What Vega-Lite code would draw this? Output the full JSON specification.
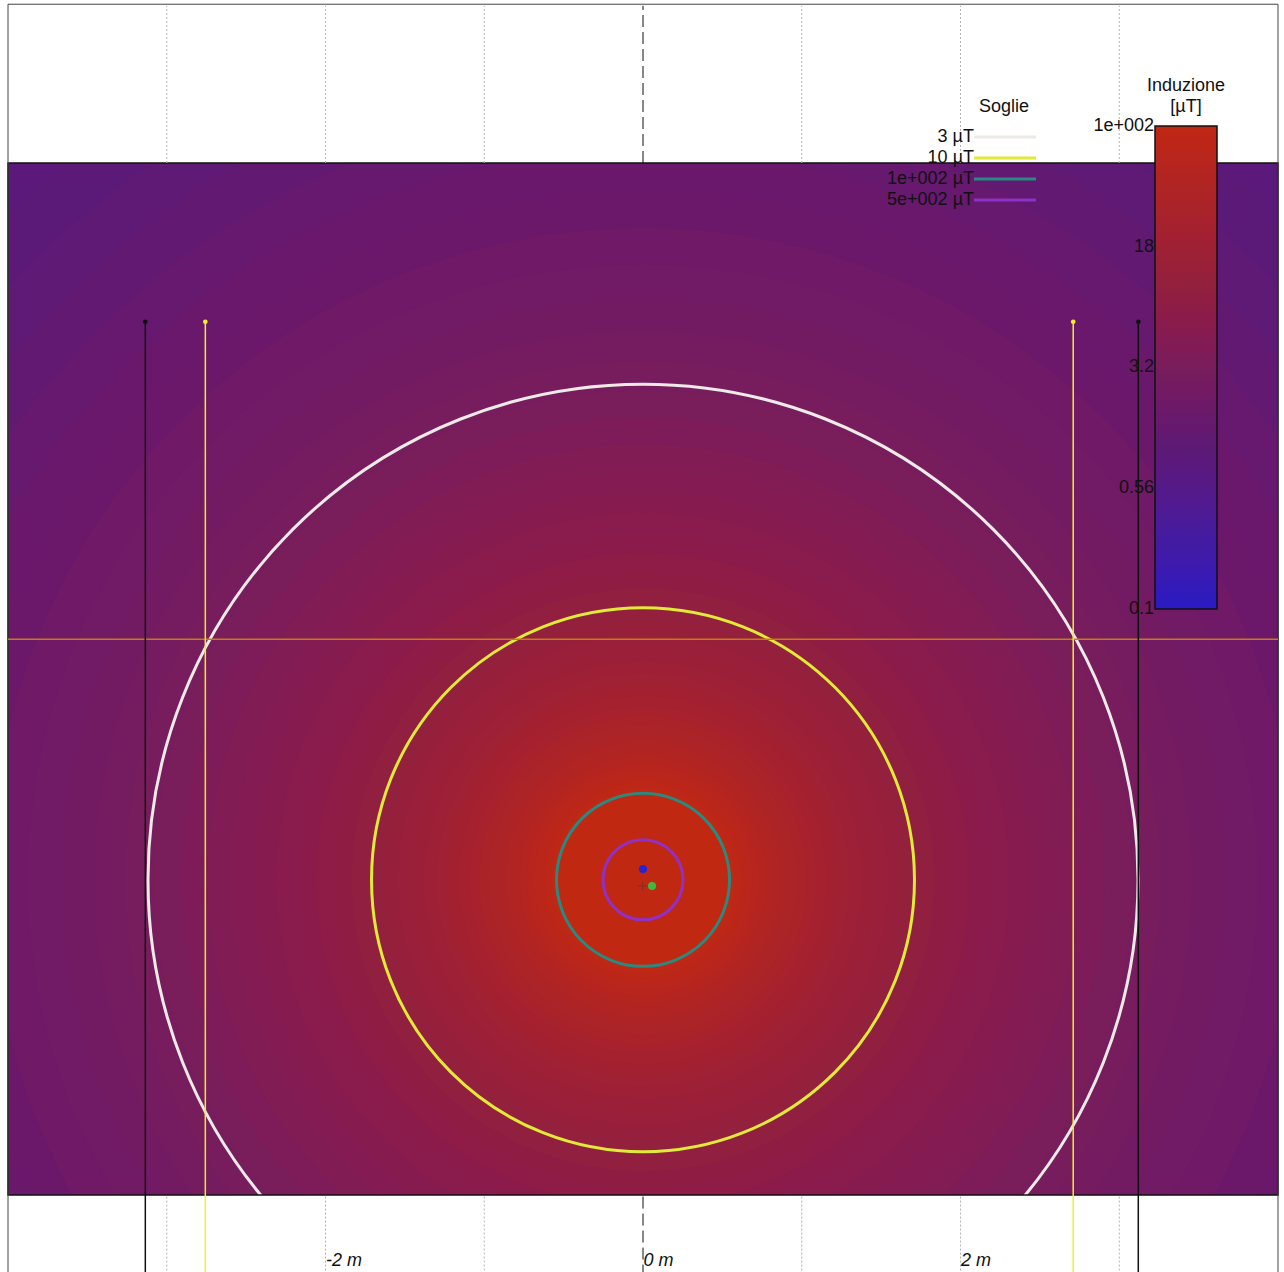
{
  "$schema": "https://vega.github.io/schema/vega-lite/v6.json",
  "autosize": {"type": "none"},
  "width": 1270,
  "height": 1032,
  "padding": {"left": 8, "top": 163, "right": 6, "bottom": 77},
  "background": "white",
  "config": {
    "view": {"stroke": null},
    "font": "Liberation Sans",
    "legend": {"labelFont": "Liberation Sans", "titleFont": "Liberation Sans", "labelFontSize": 18, "titleFontSize": 18, "titleFontWeight": "normal", "labelColor": "#111", "titleColor": "#111"}
  },
  "datasets": {
    "rings": [
      {"r": 6.145, "B": 0.841}, {"r": 5.802, "B": 0.944}, {"r": 5.477, "B": 1.06}, {"r": 5.171, "B": 1.19},
      {"r": 4.881, "B": 1.33}, {"r": 4.608, "B": 1.50}, {"r": 4.351, "B": 1.68}, {"r": 4.107, "B": 1.88},
      {"r": 3.877, "B": 2.11}, {"r": 3.660, "B": 2.37}, {"r": 3.456, "B": 2.66}, {"r": 3.262, "B": 2.99},
      {"r": 3.080, "B": 3.35}, {"r": 2.908, "B": 3.76}, {"r": 2.745, "B": 4.22}, {"r": 2.591, "B": 4.73},
      {"r": 2.446, "B": 5.31}, {"r": 2.310, "B": 5.96}, {"r": 2.180, "B": 6.68}, {"r": 2.059, "B": 7.50},
      {"r": 1.943, "B": 8.41}, {"r": 1.835, "B": 9.44}, {"r": 1.732, "B": 10.6}, {"r": 1.635, "B": 11.9},
      {"r": 1.544, "B": 13.3}, {"r": 1.457, "B": 15.0}, {"r": 1.376, "B": 16.8}, {"r": 1.299, "B": 18.8},
      {"r": 1.226, "B": 21.1}, {"r": 1.158, "B": 23.7}, {"r": 1.093, "B": 26.6}, {"r": 1.032, "B": 29.9},
      {"r": 0.974, "B": 33.5}, {"r": 0.920, "B": 37.6}, {"r": 0.868, "B": 42.2}, {"r": 0.819, "B": 47.3},
      {"r": 0.774, "B": 53.1}, {"r": 0.730, "B": 59.6}, {"r": 0.690, "B": 66.8}, {"r": 0.651, "B": 75.0},
      {"r": 0.615, "B": 84.1}, {"r": 0.580, "B": 94.4}, {"r": 0.548, "B": 105.9}
    ],
    "contours": [
      {"r": 3.118, "soglia": "3 µT"},
      {"r": 1.710, "soglia": "10 µT"},
      {"r": 0.545, "soglia": "1e+002 µT"},
      {"r": 0.252, "soglia": "5e+002 µT"}
    ],
    "grid": [{"x": -3}, {"x": -2}, {"x": -1}, {"x": 1}, {"x": 2}, {"x": 3}],
    "markers": [
      {"x": -3.135, "kind": "black"}, {"x": 3.12, "kind": "black"},
      {"x": -2.757, "kind": "yellow"}, {"x": 2.71, "kind": "yellow"}
    ],
    "conductors": [
      {"x": 0.0, "y": -1.447, "phase": "#2424d4"},
      {"x": 0.057, "y": -1.554, "phase": "#3cbc3c"}
    ],
    "cbarticks": [
      {"v": 100, "label": "1e+002"}, {"v": 17.783, "label": "18"}, {"v": 3.1623, "label": "3.2"},
      {"v": 0.5623, "label": "0.56"}, {"v": 0.1, "label": "0.1"}
    ]
  },
  "resolve": {"scale": {"y": "independent"}},
  "layer": [
    {
      "layer": [
        {
          "data": {"name": "rings"},
          "mark": {"type": "point", "shape": "circle", "filled": true, "opacity": 1, "strokeWidth": 0, "clip": true},
          "encoding": {
            "x": {"datum": 0, "type": "quantitative", "scale": {"domain": [-4, 4], "nice": false, "zero": false}, "axis": {"values": [-2, 0, 2], "labelExpr": "datum.value + ' m'", "grid": false, "domain": false, "ticks": false, "labelAlign": "left", "labelDx": 4, "labelPadding": 70, "labelBaseline": "alphabetic", "labelFontSize": 18, "labelFontStyle": "italic", "labelColor": "#111", "labelFont": "Liberation Sans", "title": null, "labelFlush": false, "labelOverlap": false}},
            "y": {"datum": -1.515, "type": "quantitative", "scale": {"domain": [-3.5, 3], "nice": false, "zero": false}, "axis": null},
            "size": {"field": "r", "type": "quantitative", "scale": {"type": "pow", "exponent": 2, "domain": [0, 8], "range": [0, 6451600]}, "legend": null},
            "order": {"field": "r", "sort": "descending"},
            "fill": {"field": "B", "type": "quantitative",
              "scale": {"type": "log", "clamp": true, "domain": [0.1, 0.3162, 1, 3.162, 10, 31.62, 100], "range": ["#2a1ac4", "#461c9c", "#5c1a76", "#781e5c", "#92203e", "#aa2428", "#c02812"]},
              "legend": {"orient": "none", "legendX": 1139, "legendY": -86, "direction": "vertical", "gradientLength": 483, "gradientThickness": 62, "gradientStrokeColor": "#111", "gradientStrokeWidth": 1.5, "values": [0.1, 0.5623, 3.1623, 17.783, 100], "labelExpr": "datum.value >= 99 ? '1e+002' : datum.value >= 17 ? '18' : datum.value >= 3 ? '3.2' : datum.value >= 0.5 ? '0.56' : '0.1'", "labelOffset": -63, "labelOpacity": 0, "labelOverlap": false, "title": ["Induzione", "[µT]"], "titleAlign": "center", "titleAnchor": "middle", "titlePadding": 10, "titleLineHeight": 21}}
          }
        },
        {
          "data": {"name": "contours"},
          "mark": {"type": "point", "shape": "circle", "filled": false, "strokeWidth": 3, "opacity": 1, "clip": true},
          "encoding": {
            "x": {"datum": 0, "type": "quantitative"},
            "y": {"datum": -1.515, "type": "quantitative"},
            "size": {"field": "r", "type": "quantitative", "legend": null},
            "stroke": {"field": "soglia", "type": "nominal", "sort": null,
              "scale": {"domain": ["3 µT", "10 µT", "1e+002 µT", "5e+002 µT"], "range": ["#eeeae6", "#e0ea38", "#2a8a80", "#9030c4"]},
              "legend": {"orient": "none", "legendX": 971, "legendY": -65, "symbolType": "M -4.43 0 L 4.43 0", "symbolSize": 196, "symbolStrokeWidth": 3, "symbolOffset": 17, "labelAlign": "right", "labelOffset": -40, "labelBaseline": "middle", "rowPadding": 3, "title": "Soglie", "titleAlign": "left", "titleAnchor": "start", "titlePadding": 12}}
          }
        },
        {
          "data": {"values": [{}]},
          "mark": {"type": "rect", "fill": null, "stroke": "#111", "strokeWidth": 1.5},
          "encoding": {"x": {"datum": -4, "type": "quantitative"}, "x2": {"datum": 4}, "y": {"datum": -3.5, "type": "quantitative"}, "y2": {"datum": 3}}
        },
        {
          "data": {"values": [{}]},
          "mark": {"type": "rect", "fill": null, "stroke": "#444", "strokeWidth": 1},
          "encoding": {"x": {"datum": -4, "type": "quantitative"}, "x2": {"datum": 4}, "y": {"datum": -4, "type": "quantitative"}, "y2": {"datum": 4}}
        },
        {
          "data": {"name": "grid"},
          "mark": {"type": "rule", "stroke": "#b4b4b4", "strokeWidth": 1, "strokeDash": [2, 2]},
          "encoding": {"x": {"field": "x", "type": "quantitative"}, "y": {"datum": 3.0, "type": "quantitative"}, "y2": {"datum": 3.99}}
        },
        {
          "data": {"name": "grid"},
          "mark": {"type": "rule", "stroke": "#b4b4b4", "strokeWidth": 1, "strokeDash": [2, 2]},
          "encoding": {"x": {"field": "x", "type": "quantitative"}, "y": {"datum": -3.51, "type": "quantitative"}, "y2": {"datum": -4.1}}
        },
        {
          "data": {"values": [{"x": 0}]},
          "mark": {"type": "rule", "stroke": "#111", "strokeWidth": 1, "strokeDash": [12, 5]},
          "encoding": {"x": {"field": "x", "type": "quantitative"}, "y": {"datum": 3.0, "type": "quantitative"}, "y2": {"datum": 3.99}}
        },
        {
          "data": {"values": [{"x": 0}]},
          "mark": {"type": "rule", "stroke": "#111", "strokeWidth": 1, "strokeDash": [12, 5]},
          "encoding": {"x": {"field": "x", "type": "quantitative"}, "y": {"datum": -3.51, "type": "quantitative"}, "y2": {"datum": -4.1}}
        },
        {
          "data": {"values": [{"x": -4, "x2": 4}]},
          "mark": {"type": "rule", "stroke": "#c47c14", "strokeWidth": 1.5},
          "encoding": {"x": {"field": "x", "type": "quantitative"}, "x2": {"field": "x2"}, "y": {"datum": 0, "type": "quantitative"}}
        },
        {
          "data": {"name": "markers"},
          "mark": {"type": "rule", "strokeWidth": 1.5},
          "encoding": {
            "x": {"field": "x", "type": "quantitative"},
            "y": {"datum": 2.0, "type": "quantitative"}, "y2": {"datum": -4.1},
            "color": {"field": "kind", "type": "nominal", "scale": {"domain": ["black", "yellow"], "range": ["#111111", "#f0f02a"]}, "legend": null}
          }
        },
        {
          "data": {"name": "markers"},
          "mark": {"type": "point", "shape": "circle", "filled": true, "size": 22, "opacity": 1},
          "encoding": {
            "x": {"field": "x", "type": "quantitative"},
            "y": {"datum": 2.0, "type": "quantitative"},
            "color": {"field": "kind", "type": "nominal", "legend": null}
          }
        },
        {
          "data": {"name": "conductors"},
          "mark": {"type": "point", "shape": "circle", "filled": true, "size": 64, "opacity": 1},
          "encoding": {
            "x": {"field": "x", "type": "quantitative"},
            "y": {"field": "y", "type": "quantitative"},
            "fill": {"field": "phase", "type": "nominal", "scale": null, "legend": null}
          }
        },
        {
          "data": {"values": [{"x": -0.003, "y": -1.554}]},
          "mark": {"type": "point", "shape": "M -1 0 L 1 0 M 0 -1 L 0 1", "filled": false, "size": 80, "stroke": "#8a2a2a", "strokeWidth": 1, "opacity": 1},
          "encoding": {"x": {"field": "x", "type": "quantitative"}, "y": {"field": "y", "type": "quantitative"}}
        }
      ]
    },
    {
      "data": {"name": "cbarticks"},
      "mark": {"type": "text", "align": "right", "baseline": "middle", "fontSize": 18, "font": "Liberation Sans", "color": "#111", "clip": false},
      "encoding": {
        "x": {"datum": 3.219, "type": "quantitative"},
        "y": {"field": "v", "type": "quantitative", "scale": {"type": "log", "domain": [0.1, 100], "range": [446, -37], "nice": false}, "axis": null},
        "text": {"field": "label"}
      }
    }
  ]
}
